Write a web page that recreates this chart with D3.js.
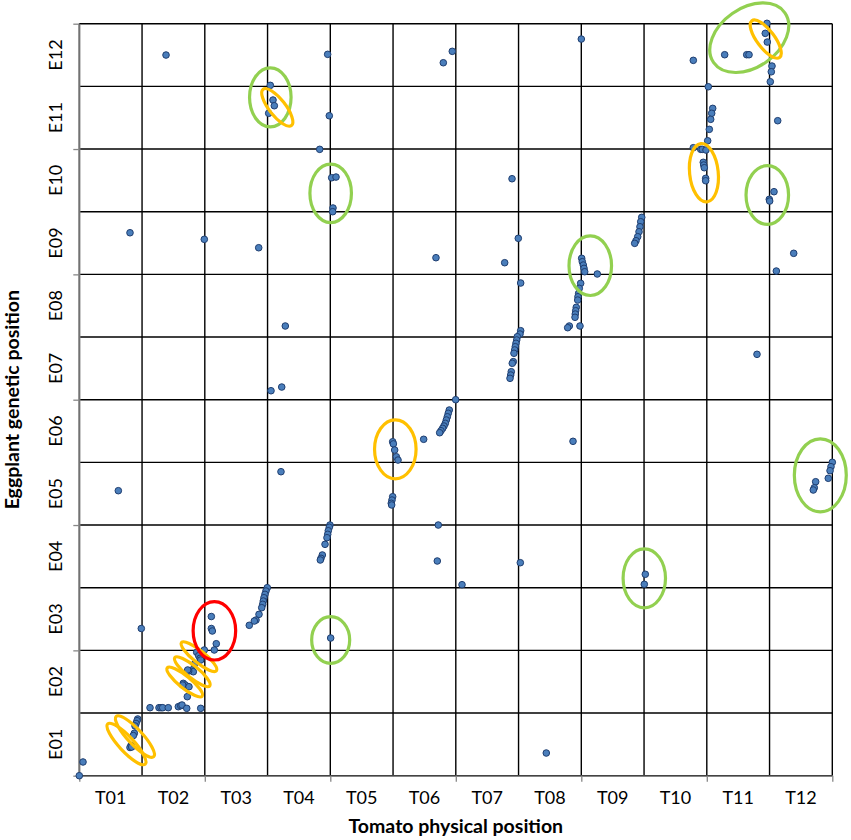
<!DOCTYPE html>
<html><head><meta charset="utf-8">
<script src="https://cdn.jsdelivr.net/npm/d3@7/dist/d3.min.js"></script>
<style>
html,body{margin:0;padding:0;background:#fff;}
svg{display:block;font-family:Lato,"Open Sans",sans-serif;}
</style></head>
<body><svg id="chart" width="851" height="840"></svg>
<script>
// Category labels
const tomatoLabels = ["T01","T02","T03","T04","T05","T06","T07","T08","T09","T10","T11","T12"];
const eggplantLabels = ["E01","E02","E03","E04","E05","E06","E07","E08","E09","E10","E11","E12"];

// Marker positions (tomato physical position, eggplant genetic position), in chromosome units
const tomatoPos = [
1.382,3.958,5.944,5.801,8.000,9.785,10.285,10.636,10.673,10.959,10.932,10.964,11.039,11.028,11.012,10.024,
3.044,3.087,3.108,3.018,3.984,10.094,10.078,10.062,10.040,10.014,11.130,3.831,
9.785,9.903,9.928,9.987,9.944,9.951,9.960,9.982,9.982,4.022,4.091,4.043,4.038,6.896,11.071,10.996,11.002,
0.808,1.992,2.859,6.996,6.779,5.684,11.385,11.108,8.963,8.947,8.935,8.920,8.899,8.872,8.851,
8.006,8.016,8.032,8.043,8.054,8.255,
7.990,7.968,7.958,7.947,7.943,7.920,7.911,7.904,7.900,7.809,7.783,7.979,7.034,3.283,
7.034,7.023,6.980,6.971,6.959,6.948,6.939,6.927,6.916,6.900,6.884,6.875,6.864,10.800,3.226,3.055,
5.998,5.896,5.880,5.865,5.849,5.833,5.812,5.791,5.764,5.743,5.488,4.994,5.005,5.026,5.052,5.079,7.868,3.214,
0.622,4.994,4.983,4.972,4.978,12.000,11.979,11.964,11.936,11.735,11.713,11.697,
5.721,3.995,3.984,3.968,3.959,3.947,3.916,3.873,3.852,3.841,5.705,7.028,6.099,9.020,9.004,
2.996,2.975,2.959,2.943,2.932,2.923,2.907,2.864,2.816,2.789,2.709,4.006,0.988,2.104,2.104,2.120,2.183,2.151,
1.992,1.871,1.903,1.924,1.935,1.833,1.796,1.817,1.743,1.727,1.657,1.689,1.748,1.648,1.721,
1.127,1.270,1.302,1.329,1.418,1.578,1.616,1.637,1.712,1.935,
0.931,0.920,0.904,0.888,0.877,0.861,0.824,0.808,0.835,0.059,0.000,7.442
];
const eggplantPos = [
11.500,11.511,11.559,11.377,11.755,11.415,11.505,11.505,11.505,12.006,11.846,11.707,11.324,11.233,11.074,10.994,
11.016,10.782,10.691,10.570,10.531,10.649,10.570,10.474,10.314,10.132,10.452,9.995,
10.021,9.995,9.995,9.984,9.788,9.745,9.702,9.532,9.494,9.542,9.553,9.059,9.000,9.526,9.319,9.197,9.170,
8.664,8.559,8.425,8.575,8.186,8.266,8.336,8.053,8.910,8.840,8.760,8.680,8.601,8.537,8.495,
8.256,8.202,8.149,8.096,8.042,8.006,
7.857,7.777,7.697,7.643,7.590,7.474,7.420,7.367,7.315,7.176,7.149,7.176,7.862,7.176,
7.101,7.048,7.005,6.953,6.900,6.846,6.794,6.741,6.607,6.581,6.447,6.394,6.341,6.724,6.202,6.143,
6.000,5.835,5.783,5.728,5.676,5.623,5.580,5.543,5.505,5.473,5.368,5.329,5.295,5.197,5.090,5.037,5.336,4.851,
4.548,4.452,4.399,4.347,4.320,5.001,4.931,4.867,4.746,4.691,4.595,4.559,
4.000,4.000,3.964,3.909,3.852,3.798,3.692,3.522,3.469,3.442,3.426,3.399,3.048,3.214,3.054,
3.000,2.947,2.894,2.840,2.787,2.735,2.681,2.575,2.484,2.468,2.400,2.197,2.349,2.540,2.349,2.309,2.106,2.006,
2.006,1.969,1.915,1.873,1.846,1.778,1.687,1.659,1.671,1.687,1.474,1.447,1.420,1.447,1.261,
1.085,1.085,1.085,1.085,1.085,1.101,1.117,1.128,1.075,1.075,
0.905,0.878,0.833,0.794,0.677,0.641,0.482,0.450,0.458,0.219,0.000,0.362
];

// Highlight ellipses (centre and semi-axes in chromosome units, tilt in degrees, kind)
const ringX     = [3.044,4.006,10.677,10.964,8.143,11.809,9.004,4.006, 3.155,10.939,9.954,5.036,0.752,0.887,1.907,1.801,1.680, 2.153];
const ringY     = [10.825,9.293,11.776,9.266,8.138,4.793,3.150,2.165, 10.665,11.755,9.622,5.208,0.506,0.625,1.899,1.659,1.495, 2.312];
const ringA     = [0.331,0.331,0.693,0.339,0.339,0.414,0.338,0.303, 0.367,0.367,0.228,0.331,0.438,0.438,0.358,0.358,0.358, 0.339];
const ringB     = [0.471,0.466,0.472,0.468,0.475,0.582,0.471,0.372, 0.130,0.140,0.468,0.471,0.118,0.118,0.095,0.095,0.095, 0.466];
const ringAngle = [0,0,-35,0,0,0,0,0, 52,53,-6,0,47,47,39,39,39, 0];
const ringKind  = ["green","green","green","green","green","green","green","green",
                   "orange","orange","orange","orange","orange","orange","orange","orange","orange","red"];

const tickValuesMajor = [0,2,4,6,8,10,12];

const svg = d3.select("#chart");
const plotLeft = 79.3, plotRight = 832.3, plotTop = 23.7, plotBottom = 775.7;
const x = d3.scaleLinear().domain([0,12]).range([plotLeft,plotRight]);
const y = d3.scaleLinear().domain([0,12]).range([plotBottom,plotTop]);
const kindColor = {green:"#92D050", orange:"#FFC000", red:"#FF0000"};

// grid
const gridVals = d3.range(0,13);
svg.append("g").selectAll("line").data(gridVals).join("line")
  .attr("x1", d=>x(d)).attr("x2", d=>x(d)).attr("y1", plotTop).attr("y2", plotBottom)
  .attr("stroke","#000").attr("stroke-width",1.4);
svg.append("g").selectAll("line").data(gridVals).join("line")
  .attr("y1", d=>y(d)).attr("y2", d=>y(d)).attr("x1", plotLeft).attr("x2", plotRight)
  .attr("stroke","#000").attr("stroke-width",1.4);

// axes (gray lines with ticks every 2 units)
const xAxis = svg.append("g").attr("transform",`translate(0,${plotBottom})`)
  .call(d3.axisBottom(x).tickValues(tickValuesMajor).tickSize(6).tickSizeOuter(0).tickFormat(""));
const yAxis = svg.append("g").attr("transform",`translate(${plotLeft},0)`)
  .call(d3.axisLeft(y).tickValues(tickValuesMajor).tickSize(6).tickSizeOuter(0).tickFormat(""));
[xAxis,yAxis].forEach(g=>{
  g.selectAll("path").attr("stroke","#878787").attr("stroke-width",1.3);
  g.selectAll("line").attr("stroke","#878787").attr("stroke-width",1.3);
});

// category labels
svg.append("g").selectAll("text").data(tomatoLabels).join("text")
  .attr("x",(d,i)=>x(i+0.5)).attr("y",804)
  .attr("text-anchor","middle").attr("font-size",18).attr("fill","#000").text(d=>d);
svg.append("g").selectAll("text").data(eggplantLabels).join("text")
  .attr("transform",(d,i)=>`translate(61.5,${y(i+0.5)}) rotate(-90)`)
  .attr("text-anchor","middle").attr("font-size",18).attr("fill","#000").text(d=>d);

// axis titles
svg.append("text").attr("x",(plotLeft+plotRight)/2).attr("y",833)
  .attr("text-anchor","middle").attr("font-weight","bold").attr("font-size",19.5).text("Tomato physical position");
svg.append("text").attr("transform",`translate(19,${(plotTop+plotBottom)/2}) rotate(-90)`)
  .attr("text-anchor","middle").attr("font-weight","bold").attr("font-size",19.5).text("Eggplant genetic position");

// points
svg.append("g").selectAll("circle").data(d3.range(tomatoPos.length)).join("circle")
  .attr("cx", i=>x(tomatoPos[i])).attr("cy", i=>y(eggplantPos[i])).attr("r",3.3)
  .attr("fill","#4A7EBB").attr("stroke","#1F3E70").attr("stroke-width",1);

// highlight ellipses
const kx = x(1)-x(0), ky = y(0)-y(1);
svg.append("g").selectAll("ellipse").data(d3.range(ringX.length)).join("ellipse")
  .attr("transform", i=>`translate(${x(ringX[i])},${y(ringY[i])}) rotate(${ringAngle[i]})`)
  .attr("rx", i=>ringA[i]*kx).attr("ry", i=>ringB[i]*ky)
  .attr("fill","none").attr("stroke", i=>kindColor[ringKind[i]]).attr("stroke-width",3.2);
</script></body></html>
